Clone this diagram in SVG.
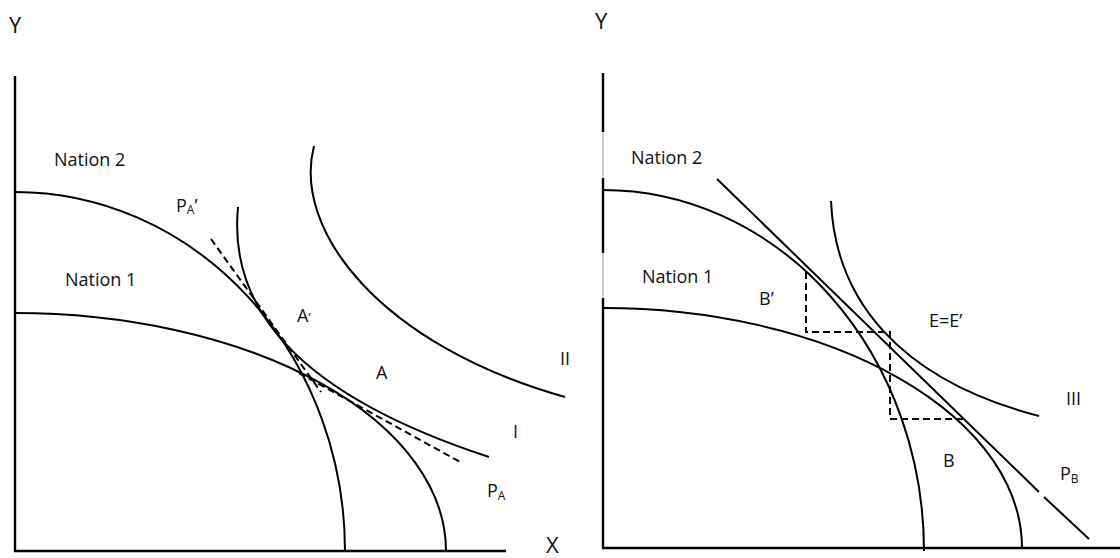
<svg xmlns="http://www.w3.org/2000/svg" width="1120" height="558" viewBox="0 0 1120 558">
<style>
.c{fill:none;stroke:#000;stroke-width:2}
.ax{fill:none;stroke:#000;stroke-width:2.4}
.lt{fill:none;stroke:#bbb;stroke-width:1.5}
.d{fill:none;stroke:#000;stroke-width:2;stroke-dasharray:7 4}
text{font-family:"Open Sans","Liberation Sans",sans-serif;font-size:18px;fill:#111}
.big{font-size:22px}
.sub{font-size:12px}
</style>
<rect width="1120" height="558" fill="#fff"/>
<g id="left-panel">
  <g id="left-axes">
    <line class="ax" x1="15" y1="76" x2="15" y2="551"/>
    <line class="ax" x1="14" y1="551" x2="506" y2="551"/>
    <text class="big" x="9" y="33">Y</text>
    <text class="big" x="546" y="553">X</text>
  </g>
  <g id="left-nation2">
    <path class="c" d="M15,192 A330,359 0 0 1 345,551"/>
    <text x="54" y="166">Nation 2</text>
  </g>
  <g id="left-nation1">
    <path class="c" d="M15,313 A431,238 0 0 1 446,551"/>
    <text x="65" y="286">Nation 1</text>
  </g>
  <g id="curve-I">
    <path class="c" d="M238,207 C228,310 300,395 489,457"/>
    <text x="513" y="438">I</text>
  </g>
  <g id="curve-II">
    <path class="c" d="M314,146 C292,230 380,345 565,397"/>
    <text x="560" y="365">II</text>
  </g>
  <g id="price-PA-prime">
    <line class="d" x1="211" y1="239" x2="321" y2="392"/>
    <text x="176" y="212">P<tspan class="sub" dy="2">A</tspan><tspan dy="-2">’</tspan></text>
  </g>
  <g id="price-PA">
    <line class="d" x1="299" y1="373" x2="462" y2="463"/>
    <text x="487" y="497">P<tspan class="sub" dy="3">A</tspan></text>
  </g>
  <g id="point-A-prime"><text x="297" y="322">A<tspan class="sub">’</tspan></text></g>
  <g id="point-A"><text x="376" y="379">A</text></g>
</g>
<g id="right-panel">
  <g id="right-axes">
    <line class="ax" x1="603" y1="73" x2="603" y2="132"/>
    <line class="lt" x1="603" y1="132" x2="603" y2="178"/>
    <line class="ax" x1="603" y1="178" x2="603" y2="253"/>
    <line class="lt" x1="603" y1="253" x2="603" y2="298"/>
    <line class="ax" x1="603" y1="298" x2="603" y2="549"/>
    <line class="ax" x1="602" y1="548" x2="1120" y2="548"/>
    <text class="big" x="595" y="29">Y</text>
  </g>
  <g id="right-nation2">
    <path class="c" d="M603,190 A321,361 0 0 1 924,551"/>
    <text x="631" y="164">Nation 2</text>
  </g>
  <g id="right-nation1">
    <path class="c" d="M603,308 A419,240 0 0 1 1022,548"/>
    <text x="642" y="283">Nation 1</text>
  </g>
  <g id="curve-III">
    <path class="c" d="M831,201 C835,300 900,380 1039,416"/>
    <text x="1066" y="405">III</text>
  </g>
  <g id="price-PB">
    <line class="c" x1="717" y1="179" x2="1039" y2="492"/>
    <line class="c" x1="1044" y1="497" x2="1089" y2="539"/>
    <text x="1060" y="480">P<tspan class="sub" dy="3">B</tspan></text>
  </g>
  <g id="trade-triangles">
    <path class="d" d="M806,272 V332 H890 V419 H964"/>
  </g>
  <g id="point-B-prime"><text x="759" y="305">B’</text></g>
  <g id="point-E"><text x="929" y="327">E=E’</text></g>
  <g id="point-B"><text x="943" y="467">B</text></g>
</g>
</svg>
